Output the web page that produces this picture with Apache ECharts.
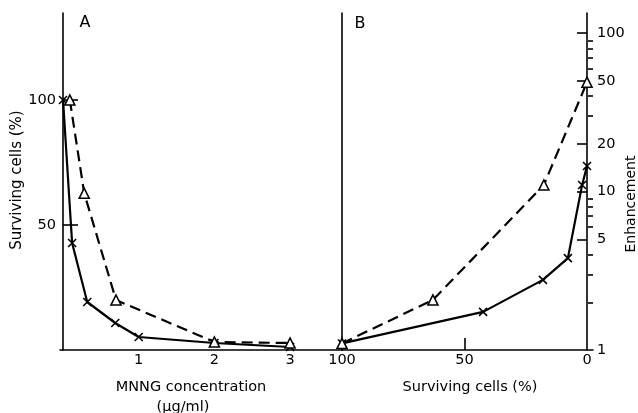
<!DOCTYPE html>
<html>
<head>
<meta charset="utf-8">
<script src="https://cdn.jsdelivr.net/npm/echarts@6/dist/echarts.min.js"></script>
<style>
  html, body { margin: 0; background: #fff; }
  #main { width: 638px; height: 413px; }
</style>
</head>
<body>
<div id="main"></div>
<script>
  // panel A: survival vs MNNG dose
  var doseCross = [0, 0.12, 0.32, 0.69, 1.0, 2.0, 3.0];
  var survCross = [100, 42.8, 19.2, 10.8, 5.2, 2.8, 1.2];
  var doseTri = [0.09, 0.28, 0.7, 2.0, 3.0];
  var survTri = [100, 62.7, 20, 3.2, 2.8];

  // panel B: enhancement vs survival
  var survCrossB = [100, 42.4, 18, 7.8, 2, 0];
  var enhCross = [1.1, 1.74, 2.77, 3.8, 11.0, 14.5];
  var survTriB = [100, 62.9, 17.6, 0];
  var enhTri = [1.1, 2.07, 11.0, 49];

  // tick values
  var xTicksA = [1, 2, 3];
  var yTicksA = [50, 100];
  var xLabelsB = [100, 50, 0];
  var xTicksB = [50];
  var logLabels = [1, 5, 10, 20, 50, 100];
  var logMajor = [5, 10, 20, 50, 100];
  var logMinor = [2, 3, 4, 6, 7, 8, 9, 30, 40, 60, 70, 80, 90];

  function zip(a, b) {
    return a.map(function (v, i) { return [v, b[i]]; });
  }

  var FONT = '"DejaVu Sans", sans-serif';
  var black = '#000';
  var crossSym = 'path://M0,0L10,10M10,0L0,10';
  var axisLine = { show: true, lineStyle: { color: black, width: 1.6 } };
  var lbl = { color: black, fontSize: 14.5, fontFamily: FONT };

  function txt(s, x, y, size, rot) {
    return {
      type: 'text', x: x, y: y, rotation: rot || 0,
      style: {
        text: s, font: size + 'px ' + FONT, fill: black,
        align: 'center', verticalAlign: 'middle', textAlign: 'center', textVerticalAlign: 'middle'
      }
    };
  }

  var chart = echarts.init(document.getElementById('main'));

  var option = {
    animation: false,
    backgroundColor: '#fff',
    grid: [
      { left: 60, top: 13, width: 282, height: 337 },
      { left: 342, top: 13, width: 251, height: 337 }
    ],
    xAxis: [
      {
        gridIndex: 0, type: 'value', min: -0.04, max: 3.686,
        axisLine: axisLine,
        axisTick: { show: false },
        axisLabel: Object.assign({ customValues: xTicksA, margin: 3 }, lbl),
        splitLine: { show: false }
      },
      {
        gridIndex: 1, type: 'value', inverse: true, min: -2.45, max: 100,
        axisLine: axisLine,
        axisTick: { inside: true, length: 12, customValues: xTicksB, lineStyle: { color: black, width: 1.6 } },
        axisLabel: Object.assign({ customValues: xLabelsB, margin: 3 }, lbl),
        splitLine: { show: false }
      }
    ],
    yAxis: [
      {
        gridIndex: 0, type: 'value', min: 0, max: 134.8,
        axisLine: axisLine,
        axisTick: { inside: true, length: 15, customValues: yTicksA, lineStyle: { color: black, width: 1.6 } },
        axisLabel: Object.assign({ customValues: yTicksA, margin: 4 }, lbl),
        splitLine: { show: false }
      },
      {
        gridIndex: 1, type: 'log', position: 'right', min: 1, max: 134,
        axisLine: axisLine,
        axisTick: { inside: true, length: 10, customValues: logMajor, lineStyle: { color: black, width: 1.6 } },
        axisLabel: Object.assign({ customValues: logLabels, margin: 4 }, lbl),
        splitLine: { show: false }
      },
      {
        gridIndex: 1, type: 'log', position: 'right', min: 1, max: 134,
        axisLine: { show: false },
        axisTick: { inside: true, length: 5, customValues: logMinor, lineStyle: { color: black, width: 1.6 } },
        axisLabel: { show: false },
        splitLine: { show: false }
      },
      {
        gridIndex: 1, type: 'value', position: 'left', min: 0, max: 1,
        axisLine: axisLine,
        axisTick: { show: false },
        axisLabel: { show: false },
        splitLine: { show: false }
      }
    ],
    series: [
      {
        type: 'line', xAxisIndex: 0, yAxisIndex: 0,
        data: zip(doseCross, survCross),
        symbol: crossSym, symbolSize: 8,
        itemStyle: { color: 'none', borderColor: black, borderWidth: 1.6 },
        lineStyle: { color: black, width: 2.2 }
      },
      {
        type: 'line', xAxisIndex: 0, yAxisIndex: 0,
        data: zip(doseTri, survTri),
        symbol: 'triangle', symbolSize: 10,
        itemStyle: { color: '#fff', borderColor: black, borderWidth: 1.6 },
        lineStyle: { color: black, width: 2.2, type: [11, 6] }
      },
      {
        type: 'line', xAxisIndex: 1, yAxisIndex: 1,
        data: zip(survCrossB, enhCross),
        symbol: crossSym, symbolSize: 8,
        itemStyle: { color: 'none', borderColor: black, borderWidth: 1.6 },
        lineStyle: { color: black, width: 2.2 }
      },
      {
        type: 'line', xAxisIndex: 1, yAxisIndex: 1,
        data: zip(survTriB, enhTri),
        symbol: 'triangle', symbolSize: 10,
        itemStyle: { color: '#fff', borderColor: black, borderWidth: 1.6 },
        lineStyle: { color: black, width: 2.2, type: [11, 6] }
      }
    ],
    graphic: [
      txt('A', 85, 23, 16),
      txt('B', 360, 24, 16),
      txt('Surviving cells (%)', 17, 180, 15, Math.PI / 2),
      txt('MNNG concentration', 191, 387, 14.5),
      txt('(\u03bcg/ml)', 183, 407, 14.5),
      txt('Surviving cells (%)', 470, 387, 14.5),
      txt('Enhancement', 631, 204, 14, Math.PI / 2)
    ]
  };

  chart.setOption(option);
</script>
</body>
</html>
